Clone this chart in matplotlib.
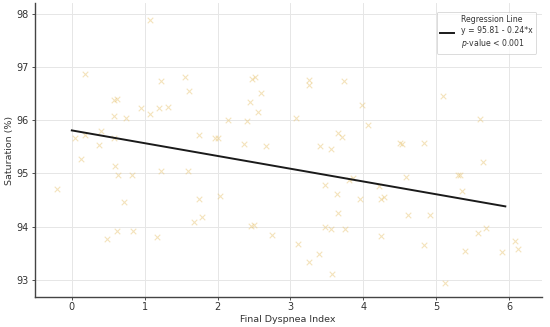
import numpy as np
import matplotlib
matplotlib.use("Agg")
import matplotlib.pyplot as plt

# scatter data
dyspnea = [-0.20, 0.04, 0.13, 0.18, 0.18, 0.37, 0.40, 0.48, 0.58, 0.62,
           0.58, 0.58, 0.59, 0.64, 0.62, 0.71, 0.74, 0.83, 0.84, 0.95,
           1.08, 1.08, 1.17, 1.19, 1.22, 1.23, 1.32, 1.56, 1.60, 1.61,
           1.68, 1.74, 1.74, 1.79, 1.97, 2.01, 2.04, 2.15, 2.36, 2.41,
           2.45, 2.46, 2.48, 2.50, 2.51, 2.55, 2.59, 2.66, 2.75, 3.08,
           3.10, 3.26, 3.26, 3.26, 3.39, 3.40, 3.47, 3.47, 3.56, 3.56,
           3.57, 3.64, 3.65, 3.66, 3.71, 3.74, 3.75, 3.81, 3.86, 3.96,
           3.98, 4.06, 4.21, 4.24, 4.29, 4.24, 4.50, 4.53, 4.58, 4.61,
           4.84, 4.84, 4.92, 5.10, 5.12, 5.30, 5.33, 5.35, 5.39, 5.58,
           5.60, 5.64, 5.69, 5.91, 6.08, 6.13]
saturation = [94.71, 95.66, 95.28, 96.87, 95.72, 95.54, 95.80, 93.76, 96.39, 96.40,
              96.09, 95.66, 95.14, 94.97, 93.91, 94.47, 96.04, 94.97, 93.91, 96.23,
              96.11, 97.89, 93.81, 96.23, 96.73, 95.05, 96.25, 96.81, 95.04, 96.56,
              94.08, 95.72, 94.52, 94.18, 95.67, 95.67, 94.57, 96.01, 95.55, 95.98,
              96.34, 94.02, 96.77, 94.04, 96.81, 96.15, 96.51, 95.52, 93.84, 96.04,
              93.68, 96.76, 96.67, 93.34, 93.49, 95.52, 94.78, 93.99, 95.46, 93.95,
              93.11, 94.62, 94.25, 95.77, 95.69, 96.73, 93.96, 94.87, 94.92, 94.53,
              96.28, 95.92, 94.77, 94.53, 94.55, 93.82, 95.58, 95.55, 94.94, 94.22,
              95.58, 93.65, 94.22, 96.46, 92.95, 94.97, 94.97, 94.68, 93.55, 93.89,
              96.02, 95.22, 93.97, 93.53, 93.73, 93.59]

intercept = 95.81
slope = -0.24
line_x = [0.0, 5.95]
xticks = [0, 1, 2, 3, 4, 5, 6]
yticks = [93, 94, 95, 96, 97, 98]

fig = plt.figure(figsize=(5.5, 3.27), dpi=100)
ax = fig.add_axes([0.063, 0.092, 0.922, 0.898])

ax.scatter(dyspnea, saturation, marker="x", s=16, linewidths=0.8,
           color="#e9c77a", alpha=0.5, zorder=2)
lx = np.array(line_x)
ax.plot(lx, intercept + slope * lx, color="#1a1a1a", linewidth=1.4, zorder=3,
        label="Regression Line\ny = 95.81 - 0.24*x\n$p$-value < 0.001")

ax.set_xlim(-0.51, 6.45)
ax.set_ylim(92.68, 98.2)
ax.set_xticks(xticks)
ax.set_yticks(yticks)
ax.grid(True, color="#e6e6e6", linewidth=0.7, zorder=0)
ax.set_axisbelow(True)

for side in ["top", "right"]:
    ax.spines[side].set_visible(False)
for side in ["left", "bottom"]:
    ax.spines[side].set_color("#444444")
    ax.spines[side].set_linewidth(1.0)

ax.tick_params(labelsize=7, colors="#333333", length=2, width=0.6, pad=2)
ax.set_xlabel("Final Dyspnea Index", fontsize=6.8, color="#333333", labelpad=2)
ax.set_ylabel("Saturation (%)", fontsize=6.8, color="#333333", labelpad=2)

leg = ax.legend(loc="upper right", fontsize=5.6, handlelength=1.8,
                frameon=True, borderpad=0.5, bbox_to_anchor=(0.997, 0.985))
leg.get_frame().set_edgecolor("#cccccc")
leg.get_frame().set_linewidth(0.6)
for t in leg.get_texts():
    t.set_color("#333333")

fig.savefig("out.png", dpi=100)
